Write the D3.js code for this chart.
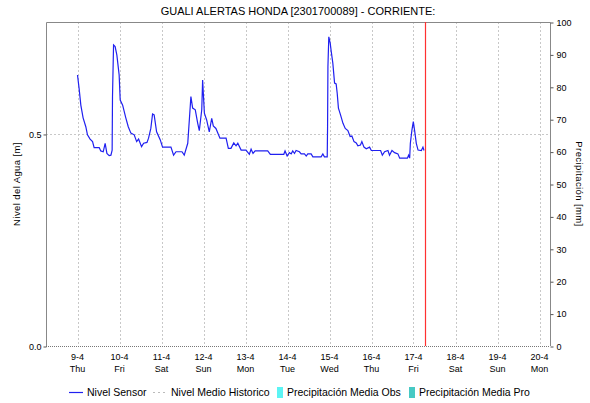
<!DOCTYPE html>
<html>
<head>
<meta charset="utf-8">
<script src="https://cdn.jsdelivr.net/npm/d3@7"></script>
<style>
  body { margin: 0; background: #fff; }
  text { font-family: "Liberation Sans", Arial, sans-serif; fill: #000; }
</style>
</head>
<body>
<svg id="chart" width="590" height="403"></svg>
<script>
'use strict';

// [hours since 9-4 00:00, level in m]
const sensorReadings = [
  [0, 0.639], [0.9, 0.608], [1.9, 0.568], [3.2, 0.538], [4.75, 0.517], [5.7, 0.498], [7.2, 0.488],
  [8.6, 0.482], [9.5, 0.468], [12.4, 0.468], [13.3, 0.460], [14.7, 0.458], [15.8, 0.478], [16.8, 0.454],
  [18.1, 0.449], [19.1, 0.450], [19.8, 0.462], [20.0, 0.588], [20.6, 0.710], [21.5, 0.706], [22.5, 0.686],
  [23.8, 0.639], [24.4, 0.580], [25.8, 0.568], [27.6, 0.538], [29.0, 0.517], [30.5, 0.502], [32.4, 0.498],
  [33.8, 0.482], [34.9, 0.488], [36.6, 0.470], [37.8, 0.478], [39.7, 0.480], [40.6, 0.490], [41.9, 0.513],
  [42.9, 0.547], [43.8, 0.545], [45.2, 0.505], [47.3, 0.486], [48.6, 0.469], [53.4, 0.469], [54.9, 0.450],
  [56.3, 0.458], [59.7, 0.458], [61.0, 0.450], [63.0, 0.478], [63.9, 0.533], [64.8, 0.588], [65.8, 0.561],
  [67.3, 0.557], [68.7, 0.525], [69.6, 0.508], [71.0, 0.557], [71.5, 0.627], [72.5, 0.549], [73.8, 0.533],
  [75.3, 0.505], [76.7, 0.537], [77.6, 0.519], [79.1, 0.513], [81.4, 0.490], [84.9, 0.490], [86.2, 0.466],
  [87.7, 0.466], [89.3, 0.479], [90.6, 0.472], [91.6, 0.478], [93.5, 0.462], [96.3, 0.462], [98.2, 0.452],
  [99.2, 0.464], [100.3, 0.454], [101.5, 0.460], [108.7, 0.460], [110.2, 0.452], [117.9, 0.452], [118.6, 0.460],
  [119.8, 0.448], [121.1, 0.456], [122.1, 0.453], [123.0, 0.460], [124.0, 0.454], [124.9, 0.461], [126.8, 0.458],
  [127.8, 0.453], [129.7, 0.453], [130.7, 0.448], [131.6, 0.453], [133.5, 0.453], [134.5, 0.446], [139.2, 0.446],
  [140.2, 0.453], [141.1, 0.446], [142.7, 0.446], [142.9, 0.517], [143.1, 0.659], [143.6, 0.729], [144.4, 0.714],
  [145.0, 0.694], [145.9, 0.667], [146.9, 0.620], [147.8, 0.618], [148.4, 0.596], [149.1, 0.561], [150.3, 0.545],
  [151.7, 0.525], [153.0, 0.513], [154.5, 0.508], [155.8, 0.494], [156.8, 0.495], [158.0, 0.482], [159.3, 0.479],
  [160.2, 0.472], [161.7, 0.474], [162.5, 0.482], [163.7, 0.469], [165.0, 0.465], [166.9, 0.469], [167.9, 0.461],
  [173.2, 0.461], [174.2, 0.450], [175.5, 0.458], [177.4, 0.461], [178.3, 0.450], [179.7, 0.461], [181.2, 0.456],
  [183.1, 0.453], [184.1, 0.443], [188.5, 0.443], [189.2, 0.450], [189.8, 0.443], [190.2, 0.478], [191.1, 0.509],
  [191.9, 0.529], [192.6, 0.509], [193.6, 0.478], [194.6, 0.462], [196.5, 0.461], [197.4, 0.469], [198.0, 0.461]
]
const precipObs = []
const precipPro = []

const levelTicks = [0, 0.5]
const precipTicks = [0, 10, 20, 30, 40, 50, 60, 70, 80, 90, 100]
const startDate = new Date(2020, 3, 8, 6)
const endDate = new Date(2020, 3, 20, 6)
const baseDate = new Date(2020, 3, 9, 0)
const nowDate = new Date(2020, 3, 17, 6, 50)

const legendItems = [
  { label: 'Nivel Sensor', kind: 'line' },
  { label: 'Nivel Medio Historico', kind: 'dash' },
  { label: 'Precipitación Media Obs', kind: 'box', color: '#5cf4f4' },
  { label: 'Precipitación Media Pro', kind: 'box', color: '#47c9c4' }
]

let svg = d3.select('#chart')
let margin = { left: 46, right: 40, top: 22, bottom: 57 }
let width = +svg.attr('width')
let height = +svg.attr('height')
let x0 = margin.left, x1 = width - margin.right
let y0 = height - margin.bottom, y1 = margin.top

let x = d3.scaleTime().domain([startDate, endDate]).range([x0, x1])
let yLevel = d3.scaleLinear().domain([0, 0.764]).range([y0, y1])
let yPrecip = d3.scaleLinear().domain([0, 100]).range([y0, y1])

let days = d3.timeDay.range(baseDate, endDate)

svg.append('text')
  .attr('x', 298).attr('y', 15)
  .attr('text-anchor', 'middle')
  .style('font-size', '11px')
  .text('GUALI ALERTAS HONDA [2301700089] - CORRIENTE:')

// grid
let grid = svg.append('g').attr('stroke', '#c8c8c8').attr('stroke-dasharray', '2,2')
grid.selectAll('.vg').data(days).enter().append('line')
  .attr('x1', d => Math.round(x(d)) + 0.5).attr('x2', d => Math.round(x(d)) + 0.5)
  .attr('y1', y1).attr('y2', y0)
grid.selectAll('.hg').data(levelTicks.filter(d => d > 0)).enter().append('line')
  .attr('x1', x0).attr('x2', x1)
  .attr('y1', d => Math.round(yLevel(d)) + 0.5).attr('y2', d => Math.round(yLevel(d)) + 0.5)
svg.append('line')
  .attr('x1', x0).attr('x2', x1).attr('y1', y0 + 0.5).attr('y2', y0 + 0.5)
  .attr('stroke', '#777').attr('stroke-dasharray', '1,1')

// frame
svg.append('path')
  .attr('d', `M${x0 + 0.5},${y0}V${y1 + 0.5}H${x1 + 0.5}V${y0}`)
  .attr('fill', 'none').attr('stroke', '#888')

// left axis
let leftAxis = svg.append('g').attr('transform', `translate(${x0 + 0.5},0.5)`)
  .call(d3.axisLeft(yLevel).tickValues(levelTicks).tickFormat(d3.format('.1f')).tickSize(3).tickPadding(2))
leftAxis.select('.domain').remove()
leftAxis.selectAll('line').attr('stroke', '#555')
leftAxis.selectAll('text').style('font-size', '9px')

// right axis
let rightAxis = svg.append('g').attr('transform', `translate(${x1 + 0.5},0.5)`)
  .call(d3.axisRight(yPrecip).tickValues(precipTicks).tickSize(3).tickPadding(3))
rightAxis.select('.domain').remove()
rightAxis.selectAll('line').attr('stroke', '#555')
rightAxis.selectAll('text').style('font-size', '9px')

// bottom labels
let dayLabels = svg.append('g')
dayLabels.selectAll('.d1').data(days).enter().append('text')
  .attr('x', d => x(d)).attr('y', y0 + 14)
  .attr('text-anchor', 'middle').style('font-size', '9px')
  .text(d3.timeFormat('%-d-%-m'))
dayLabels.selectAll('.d2').data(days).enter().append('text')
  .attr('x', d => x(d)).attr('y', y0 + 26)
  .attr('text-anchor', 'middle').style('font-size', '9px')
  .text(d3.timeFormat('%a'))

// axis titles
svg.append('text')
  .attr('transform', `translate(20,${(y0 + y1) / 2}) rotate(-90)`)
  .attr('text-anchor', 'middle').style('font-size', '9.5px').style('letter-spacing', '0.4px')
  .text('Nivel del Agua [m]')
svg.append('text')
  .attr('transform', `translate(576,${(y0 + y1) / 2}) rotate(90)`)
  .attr('text-anchor', 'middle').style('font-size', '9.5px').style('letter-spacing', '0.4px')
  .text('Precipitación [mm]')

// precipitation bars (none observed)
let barW = 6
svg.append('g').selectAll('rect').data(precipObs).enter().append('rect')
  .attr('x', d => x(d[0]) - barW / 2).attr('width', barW)
  .attr('y', d => yPrecip(d[1])).attr('height', d => y0 - yPrecip(d[1]))
  .attr('fill', legendItems[2].color)
svg.append('g').selectAll('rect').data(precipPro).enter().append('rect')
  .attr('x', d => x(d[0]) - barW / 2).attr('width', barW)
  .attr('y', d => yPrecip(d[1])).attr('height', d => y0 - yPrecip(d[1]))
  .attr('fill', legendItems[3].color)

// sensor line
let line = d3.line()
  .x(d => x(d3.timeMinute.offset(baseDate, Math.round(d[0] * 60))))
  .y(d => yLevel(d[1]))
svg.append('path')
  .datum(sensorReadings)
  .attr('d', line)
  .attr('fill', 'none')
  .attr('stroke', '#2020f0')
  .attr('stroke-width', 1.2)

// current time marker
svg.append('line')
  .attr('x1', Math.round(x(nowDate)) + 0.5).attr('x2', Math.round(x(nowDate)) + 0.5)
  .attr('y1', y1).attr('y2', y0)
  .attr('stroke', '#ff3030').attr('stroke-width', 1.2)

// legend
let legendX = [69, 153, 277, 409]
let legend = svg.append('g').attr('transform', 'translate(0,392)')
legendItems.forEach(function(item, i) {
  let lx = legendX[i]
  if (item.kind === 'line') {
    legend.append('line').attr('x1', lx).attr('x2', lx + 14).attr('y1', 0.5).attr('y2', 0.5)
      .attr('stroke', '#2020f0').attr('stroke-width', 1.2)
  } else if (item.kind === 'dash') {
    legend.append('line').attr('x1', lx).attr('x2', lx + 14).attr('y1', 0.5).attr('y2', 0.5)
      .attr('stroke', '#bbb').attr('stroke-dasharray', '2,3')
  } else {
    legend.append('rect').attr('x', lx).attr('y', -5).attr('width', 6).attr('height', 11)
      .attr('fill', item.color)
  }
  legend.append('text')
    .attr('x', lx + (item.kind === 'box' ? 10 : 18)).attr('y', 4)
    .style('font-size', '10.5px')
    .text(item.label)
})
</script>
</body>
</html>
